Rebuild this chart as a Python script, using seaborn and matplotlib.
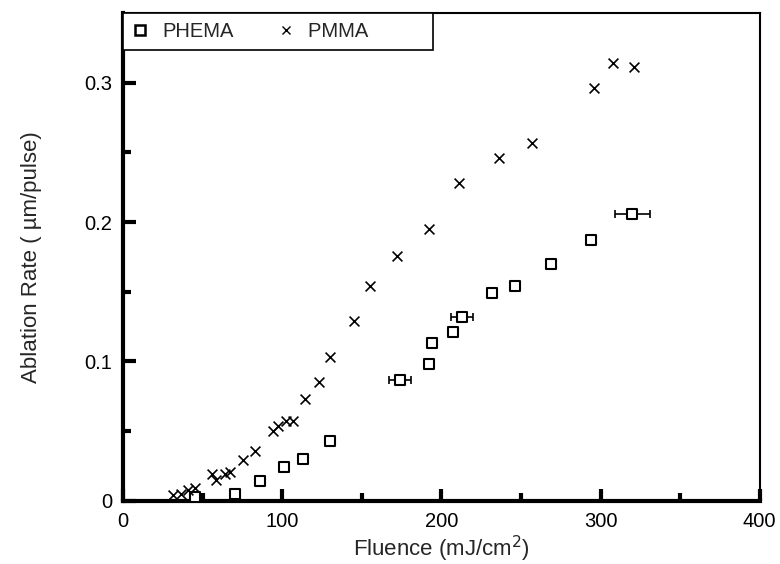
import numpy as np
import pandas as pd
import matplotlib
matplotlib.use('Agg')
import matplotlib.pyplot as plt
from matplotlib.lines import Line2D
import seaborn as sns

# PHEMA (squares)
phema_x = [45, 70, 86, 101, 113, 130, 174, 192, 194, 207, 213, 232, 246, 269, 294, 320]
phema_y = [0.003, 0.005, 0.014, 0.024, 0.030, 0.043, 0.087, 0.098, 0.113, 0.121,
           0.132, 0.149, 0.154, 0.170, 0.187, 0.206]
phema_xerr = [0, 0, 0, 0, 0, 2, 7, 0, 0, 0, 7, 0, 0, 0, 0, 11]

# PMMA (crosses)
pmma_x = [31, 36, 41, 45, 56, 58, 64, 67, 75, 83, 94, 97, 102, 107, 114, 123, 130,
          145, 155, 172, 192, 211, 236, 257, 296, 308, 321]
pmma_y = [0.004, 0.005, 0.008, 0.009, 0.019, 0.015, 0.019, 0.021, 0.029, 0.036, 0.050,
          0.054, 0.057, 0.057, 0.073, 0.085, 0.103, 0.129, 0.154, 0.176, 0.195, 0.228,
          0.246, 0.257, 0.296, 0.314, 0.311]

sns.set_theme(style='ticks')
plt.rcParams['font.family'] = ['Liberation Sans', 'DejaVu Sans']

df_phema = pd.DataFrame({'x': phema_x, 'y': phema_y, 'xerr': phema_xerr})
df_pmma = pd.DataFrame({'x': pmma_x, 'y': pmma_y})

fig = plt.figure(figsize=(7.8, 5.64), dpi=100)
ax = fig.add_axes([0.158, 0.112, 0.816, 0.865])

# error bars for the few PHEMA points that have them
err = df_phema[df_phema['xerr'] > 0]
ax.errorbar(err['x'], err['y'], xerr=err['xerr'], fmt='none', ecolor='black',
            elinewidth=1.2, capsize=3, capthick=1.2, zorder=2)

sns.scatterplot(data=df_phema, x='x', y='y', ax=ax, marker='s', s=42,
                facecolor='white', edgecolor='black', linewidth=1.5, zorder=3)
sns.scatterplot(data=df_pmma, x='x', y='y', ax=ax, marker='x', s=50,
                color='black', linewidth=1.2, zorder=3)

ax.set_xlim(0, 400)
ax.set_ylim(0, 0.35)
ax.set_xticks([0, 100, 200, 300, 400])
ax.set_xticklabels(['0', '100', '200', '300', '400'])
ax.set_xticks([50, 150, 250, 350], minor=True)
ax.set_yticks([0, 0.1, 0.2, 0.3])
ax.set_yticklabels(['0', '0.1', '0.2', '0.3'])
ax.set_yticks([0.05, 0.15, 0.25], minor=True)
ax.tick_params(which='major', direction='in', length=9, width=3, labelsize=14.5,
               colors='black', pad=8)
ax.tick_params(which='minor', direction='in', length=6, width=3, colors='black')

for side in ['left', 'bottom']:
    ax.spines[side].set_linewidth(3)
for side in ['top', 'right']:
    ax.spines[side].set_linewidth(1.5)
for s in ax.spines.values():
    s.set_color('black')

ax.set_xlabel('Fluence (mJ/cm$^{2}$)', fontsize=16, labelpad=2)
ax.set_ylabel('Ablation Rate ( \u00b5m/pulse)', fontsize=16, labelpad=30)

handles = [
    Line2D([], [], marker='s', linestyle='none', markersize=7, markerfacecolor='white',
           markeredgecolor='black', markeredgewidth=1.8),
    Line2D([], [], marker='x', linestyle='none', markersize=6, color='black',
           markeredgewidth=1.0),
]
leg = ax.legend(handles, ['PHEMA', 'PMMA          '], loc='upper left', ncol=2,
                bbox_to_anchor=(0, 1), borderaxespad=0,
                fancybox=False, framealpha=1, edgecolor='black', fontsize=14.5,
                handletextpad=0.7, handlelength=0.8, borderpad=0.45,
                columnspacing=2.2)
leg.get_frame().set_linewidth(1.2)

fig.savefig('out.png', dpi=100)
